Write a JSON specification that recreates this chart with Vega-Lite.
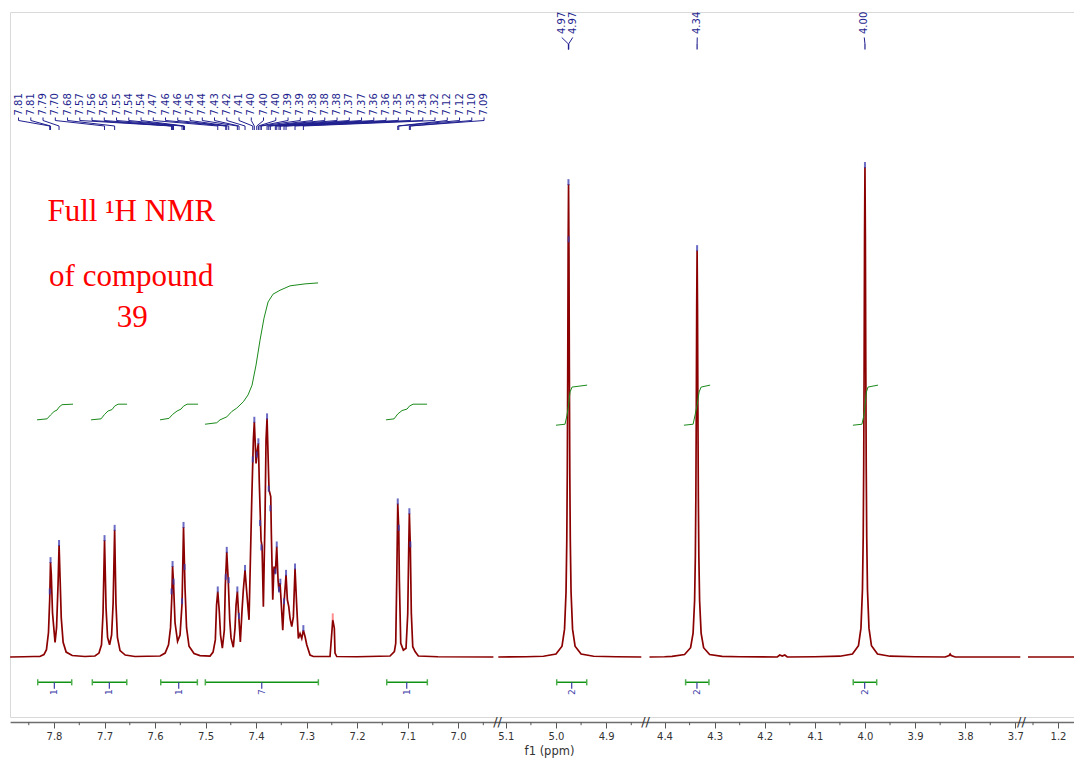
{
"$schema": "https://vega.github.io/schema/vega-lite/v6.json",
"width": 1064, "height": 705,
"autosize": {"type": "none"},
"padding": {"left": 10, "top": 12, "right": 0, "bottom": 42},
"background": "white",
"config": {"view": {"stroke": "#d9d9d9", "strokeWidth": 1}, "font": "DejaVu Sans"},
"datasets": {
"spectrum": [
{"s":"a","x":7.887,"y":0},{"s":"a","x":7.86,"y":0.05},{"s":"a","x":7.84,"y":0.1},{"s":"a","x":7.828,"y":0.1},{"s":"a","x":7.82,"y":0.5},{"s":"a","x":7.815,"y":1.5},{"s":"a","x":7.811,"y":5},{"s":"a","x":7.8085,"y":12},{"s":"a","x":7.807,"y":19.4},{"s":"a","x":7.8055,"y":17},{"s":"a","x":7.803,"y":9},{"s":"a","x":7.798,"y":3},{"s":"a","x":7.795,"y":6},{"s":"a","x":7.792,"y":15},{"s":"a","x":7.79,"y":22.9},{"s":"a","x":7.788,"y":16},{"s":"a","x":7.7857,"y":8},{"s":"a","x":7.782,"y":3},{"s":"a","x":7.776,"y":1},{"s":"a","x":7.764,"y":0.3},{"s":"a","x":7.739,"y":0.1},
{"s":"a","x":7.719,"y":0.2},{"s":"a","x":7.711,"y":0.8},{"s":"a","x":7.706,"y":2.5},{"s":"a","x":7.703,"y":9},{"s":"a","x":7.7,"y":23.9},{"s":"a","x":7.697,"y":10},{"s":"a","x":7.694,"y":4},{"s":"a","x":7.69,"y":2.5},{"s":"a","x":7.686,"y":4.5},{"s":"a","x":7.683,"y":11},{"s":"a","x":7.68,"y":26.0},{"s":"a","x":7.6774,"y":11},{"s":"a","x":7.6745,"y":4},{"s":"a","x":7.6693,"y":1.3},{"s":"a","x":7.659,"y":0.4},{"s":"a","x":7.64,"y":0.1},
{"s":"a","x":7.59,"y":0.2},{"s":"a","x":7.58,"y":0.8},{"s":"a","x":7.5733,"y":2.5},{"s":"a","x":7.5693,"y":6},{"s":"a","x":7.5669,"y":12},{"s":"a","x":7.5653,"y":18.6},{"s":"a","x":7.5634,"y":15},{"s":"a","x":7.5604,"y":7},{"s":"a","x":7.5554,"y":3.2},{"s":"a","x":7.5505,"y":4.5},{"s":"a","x":7.5465,"y":11},{"s":"a","x":7.5436,"y":26.6},{"s":"a","x":7.5406,"y":14},{"s":"a","x":7.5376,"y":6},{"s":"a","x":7.5327,"y":2.2},{"s":"a","x":7.5228,"y":0.7},{"s":"a","x":7.511,"y":0.3},
{"s":"a","x":7.4911,"y":0.2},{"s":"a","x":7.4851,"y":1.0},{"s":"a","x":7.4806,"y":3.5},{"s":"a","x":7.4782,"y":10.6},{"s":"a","x":7.4758,"y":13.4},{"s":"a","x":7.4727,"y":9.2},{"s":"a","x":7.4703,"y":4.5},{"s":"a","x":7.4667,"y":1.8},{"s":"a","x":7.4628,"y":5.5},{"s":"a","x":7.4608,"y":14.7},{"s":"a","x":7.458,"y":21.5},{"s":"a","x":7.4549,"y":15.3},{"s":"a","x":7.4521,"y":7.6},{"s":"a","x":7.4495,"y":3.9},{"s":"a","x":7.445,"y":2.0},{"s":"a","x":7.4416,"y":5.9},{"s":"a","x":7.4396,"y":10.6},{"s":"a","x":7.437,"y":13.4},{"s":"a","x":7.4347,"y":9.2},{"s":"a","x":7.4311,"y":3.1},{"s":"a","x":7.4277,"y":9.6},{"s":"a","x":7.4252,"y":13.7},{"s":"a","x":7.4218,"y":17.8},{"s":"a","x":7.4188,"y":13.7},{"s":"a","x":7.4139,"y":7.6},{"s":"a","x":7.4085,"y":32.1},{"s":"a","x":7.4053,"y":44.4},{"s":"a","x":7.4034,"y":48.1},{"s":"a","x":7.4,"y":39.6},{"s":"a","x":7.3974,"y":42.3},{"s":"a","x":7.3954,"y":43.7},{"s":"a","x":7.3935,"y":35.5},{"s":"a","x":7.3915,"y":28.7},{"s":"a","x":7.3901,"y":23.9},{"s":"a","x":7.3881,"y":22.6},{"s":"a","x":7.3855,"y":10.3},{"s":"a","x":7.3822,"y":28.7},{"s":"a","x":7.3802,"y":44.4},{"s":"a","x":7.3782,"y":48.8},{"s":"a","x":7.3743,"y":34.2},{"s":"a","x":7.3709,"y":32.8},{"s":"a","x":7.3697,"y":25.3},{"s":"a","x":7.3669,"y":11.7},{"s":"a","x":7.3644,"y":18.5},{"s":"a","x":7.3618,"y":17.1},{"s":"a","x":7.359,"y":22.6},{"s":"a","x":7.3564,"y":15.7},{"s":"a","x":7.3545,"y":13.4},{"s":"a","x":7.3525,"y":15.1},{"s":"a","x":7.3505,"y":11.7},{"s":"a","x":7.3471,"y":5.5},{"s":"a","x":7.3446,"y":11.0},{"s":"a","x":7.3406,"y":16.8},{"s":"a","x":7.338,"y":11.7},{"s":"a","x":7.3352,"y":10.3},{"s":"a","x":7.3327,"y":7.9},{"s":"a","x":7.3293,"y":6.2},{"s":"a","x":7.3261,"y":8.2},{"s":"a","x":7.3228,"y":18.1},{"s":"a","x":7.3194,"y":10.3},{"s":"a","x":7.3162,"y":3.8},{"s":"a","x":7.3129,"y":4.8},{"s":"a","x":7.3095,"y":3.8},{"s":"a","x":7.3063,"y":5.5},{"s":"a","x":7.303,"y":4.2},{"s":"a","x":7.2996,"y":2.5},{"s":"a","x":7.2931,"y":0.4},{"s":"a","x":7.2865,"y":0.1},
{"s":"a","x":7.2535,"y":0.1},{"s":"a","x":7.2501,"y":4.8},{"s":"a","x":7.2481,"y":7.6},{"s":"a","x":7.245,"y":5.9},{"s":"a","x":7.2436,"y":0.8},{"s":"a","x":7.2402,"y":0.1},{"s":"a","x":7.2,"y":0.05},
{"s":"a","x":7.1347,"y":0.2},{"s":"a","x":7.1261,"y":1.1},{"s":"a","x":7.1234,"y":2.8},{"s":"a","x":7.1214,"y":15.7},{"s":"a","x":7.1194,"y":31.4},{"s":"a","x":7.1174,"y":26.0},{"s":"a","x":7.1162,"y":15.7},{"s":"a","x":7.1135,"y":2.8},{"s":"a","x":7.1083,"y":1.4},{"s":"a","x":7.103,"y":1.8},{"s":"a","x":7.0996,"y":8.9},{"s":"a","x":7.0976,"y":22.6},{"s":"a","x":7.0964,"y":29.4},{"s":"a","x":7.0945,"y":22.6},{"s":"a","x":7.0925,"y":8.9},{"s":"a","x":7.0897,"y":2.1},{"s":"a","x":7.0851,"y":1.1},{"s":"a","x":7.0786,"y":0.2},{"s":"a","x":7.04,"y":0.05},{"s":"a","x":6.93,"y":0},
{"s":"b","x":5.115,"y":0},{"s":"b","x":5.06,"y":0.05},{"s":"b","x":5.025,"y":0.15},{"s":"b","x":5.0,"y":0.6},{"s":"b","x":4.988,"y":2.2},{"s":"b","x":4.983,"y":5.7},{"s":"b","x":4.98,"y":13.3},{"s":"b","x":4.9785,"y":23.8},{"s":"b","x":4.9775,"y":37.7},{"s":"b","x":4.9766,"y":59.0},{"s":"b","x":4.9758,"y":83.4},{"s":"b","x":4.975,"y":96.7},{"s":"b","x":4.9742,"y":83.4},{"s":"b","x":4.9734,"y":59.0},{"s":"b","x":4.9725,"y":37.7},{"s":"b","x":4.9715,"y":23.8},{"s":"b","x":4.97,"y":13.3},{"s":"b","x":4.967,"y":5.7},{"s":"b","x":4.962,"y":2.2},{"s":"b","x":4.95,"y":0.6},{"s":"b","x":4.925,"y":0.15},{"s":"b","x":4.88,"y":0.05},{"s":"b","x":4.83,"y":0},
{"s":"c","x":4.43,"y":0},{"s":"c","x":4.4,"y":0.05},{"s":"c","x":4.385,"y":0.13},{"s":"c","x":4.36,"y":0.5},{"s":"c","x":4.348,"y":1.9},{"s":"c","x":4.343,"y":4.9},{"s":"c","x":4.34,"y":11.5},{"s":"c","x":4.3385,"y":20.5},{"s":"c","x":4.3375,"y":32.4},{"s":"c","x":4.3366,"y":50.8},{"s":"c","x":4.3358,"y":71.7},{"s":"c","x":4.335,"y":83.2},{"s":"c","x":4.3342,"y":71.7},{"s":"c","x":4.3334,"y":50.8},{"s":"c","x":4.3325,"y":32.4},{"s":"c","x":4.3315,"y":20.5},{"s":"c","x":4.33,"y":11.5},{"s":"c","x":4.327,"y":4.9},{"s":"c","x":4.322,"y":1.9},{"s":"c","x":4.31,"y":0.5},{"s":"c","x":4.285,"y":0.13},{"s":"c","x":4.25,"y":0.05},{"s":"c","x":4.175,"y":0},{"s":"c","x":4.17,"y":0.4},{"s":"c","x":4.165,"y":0.2},{"s":"c","x":4.16,"y":0.4},{"s":"c","x":4.155,"y":0},{"s":"c","x":4.1,"y":0.05},{"s":"c","x":4.05,"y":0.16},{"s":"c","x":4.025,"y":0.6},{"s":"c","x":4.013,"y":2.3},{"s":"c","x":4.008,"y":5.9},{"s":"c","x":4.005,"y":13.8},{"s":"c","x":4.0035,"y":24.6},{"s":"c","x":4.0025,"y":39.1},{"s":"c","x":4.0016,"y":61.1},{"s":"c","x":4.0008,"y":86.4},{"s":"c","x":4.0,"y":100.2},{"s":"c","x":3.9992,"y":86.4},{"s":"c","x":3.9984,"y":61.1},{"s":"c","x":3.9975,"y":39.1},{"s":"c","x":3.9965,"y":24.6},{"s":"c","x":3.995,"y":13.8},{"s":"c","x":3.992,"y":5.9},{"s":"c","x":3.987,"y":2.3},{"s":"c","x":3.975,"y":0.6},{"s":"c","x":3.95,"y":0.16},{"s":"c","x":3.9,"y":0.05},{"s":"c","x":3.84,"y":0},{"s":"c","x":3.832,"y":0.3},{"s":"c","x":3.83,"y":0.6},{"s":"c","x":3.828,"y":0.3},{"s":"c","x":3.82,"y":0},{"s":"c","x":3.69,"y":0},
{"s":"d","x":1.26,"y":0},{"s":"d","x":1.16,"y":0}
],
"integrals": [
{"g":1,"x":7.8337,"y":48.5},{"g":1,"x":7.8139,"y":48.7},{"g":1,"x":7.8069,"y":49.5},{"g":1,"x":7.8,"y":50.2},{"g":1,"x":7.7941,"y":50.5},{"g":1,"x":7.7901,"y":51.1},{"g":1,"x":7.7842,"y":51.6},{"g":1,"x":7.7624,"y":51.7},
{"g":2,"x":7.7267,"y":48.5},{"g":2,"x":7.7069,"y":48.7},{"g":2,"x":7.7,"y":49.6},{"g":2,"x":7.6931,"y":50.3},{"g":2,"x":7.6851,"y":50.6},{"g":2,"x":7.68,"y":51.3},{"g":2,"x":7.6733,"y":51.7},{"g":2,"x":7.6554,"y":51.7},
{"g":3,"x":7.5901,"y":48.5},{"g":3,"x":7.5723,"y":48.8},{"g":3,"x":7.5653,"y":49.6},{"g":3,"x":7.5564,"y":50.3},{"g":3,"x":7.5485,"y":50.7},{"g":3,"x":7.5436,"y":51.3},{"g":3,"x":7.5366,"y":51.7},{"g":3,"x":7.5149,"y":51.7},
{"g":4,"x":7.501,"y":47.6},{"g":4,"x":7.4778,"y":47.9},{"g":4,"x":7.4713,"y":48.5},{"g":4,"x":7.458,"y":49.1},{"g":4,"x":7.4481,"y":50.2},{"g":4,"x":7.4382,"y":50.9},{"g":4,"x":7.4251,"y":52.2},{"g":4,"x":7.4158,"y":53.6},{"g":4,"x":7.4079,"y":55.6},{"g":4,"x":7.4,"y":59.7},{"g":4,"x":7.3921,"y":64.8},{"g":4,"x":7.3842,"y":69.3},{"g":4,"x":7.3762,"y":72.6},{"g":4,"x":7.3663,"y":74.2},{"g":4,"x":7.3525,"y":75.0},{"g":4,"x":7.3327,"y":75.9},{"g":4,"x":7.303,"y":76.3},{"g":4,"x":7.2772,"y":76.5},
{"g":5,"x":7.1426,"y":48.5},{"g":5,"x":7.1267,"y":48.7},{"g":5,"x":7.1194,"y":49.7},{"g":5,"x":7.1109,"y":50.4},{"g":5,"x":7.101,"y":50.7},{"g":5,"x":7.0964,"y":51.3},{"g":5,"x":7.0891,"y":51.7},{"g":5,"x":7.0614,"y":51.7},
{"g":6,"x":5.0,"y":47.4},{"g":6,"x":4.982,"y":47.6},{"g":6,"x":4.978,"y":49.5},{"g":6,"x":4.975,"y":51.5},{"g":6,"x":4.972,"y":54.2},{"g":6,"x":4.968,"y":55.2},{"g":6,"x":4.938,"y":55.6},
{"g":7,"x":4.3613,"y":47.4},{"g":7,"x":4.343,"y":47.6},{"g":7,"x":4.339,"y":49.5},{"g":7,"x":4.335,"y":51.5},{"g":7,"x":4.331,"y":54.2},{"g":7,"x":4.327,"y":55.2},{"g":7,"x":4.309,"y":55.6},
{"g":8,"x":4.024,"y":47.4},{"g":8,"x":4.006,"y":47.6},{"g":8,"x":4.002,"y":49.5},{"g":8,"x":4.0,"y":51.5},{"g":8,"x":3.997,"y":54.2},{"g":8,"x":3.994,"y":55.2},{"g":8,"x":3.974,"y":55.6}
],
"bars": [
{"x":7.8323,"x2":7.765,"m":7.7994,"n":"1"},{"x":7.7242,"x2":7.656,"m":7.6905,"n":"1"},{"x":7.5887,"x2":7.5162,"m":7.5531,"n":"1"},{"x":7.5004,"x2":7.2766,"m":7.3887,"n":"7"},{"x":7.1412,"x2":7.0608,"m":7.1016,"n":"1"},{"x":4.9986,"x2":4.9388,"m":4.9687,"n":"2"},{"x":4.3579,"x2":4.3114,"m":4.3353,"n":"2"},{"x":4.0234,"x2":3.9766,"m":4.0006,"n":"2"}
],
"arom": [
{"x":7.8703,"x2":7.8085,"t":"7.81","h":13},{"x":7.846,"x2":7.8069,"t":"7.81","h":19.4},{"x":7.8218,"x2":7.7901,"t":"7.79","h":22.9},{"x":7.7975,"x2":7.7,"t":"7.70","h":23.9},{"x":7.7733,"x2":7.68,"t":"7.68","h":26.0},{"x":7.749,"x2":7.5673,"t":"7.57","h":13},{"x":7.7248,"x2":7.5653,"t":"7.56","h":18.6},{"x":7.7005,"x2":7.5634,"t":"7.56","h":15},{"x":7.6762,"x2":7.5465,"t":"7.55","h":11},{"x":7.652,"x2":7.5436,"t":"7.54","h":26.6},{"x":7.6277,"x2":7.5416,"t":"7.54","h":18},{"x":7.6035,"x2":7.4758,"t":"7.47","h":13.4},{"x":7.5792,"x2":7.46,"t":"7.46","h":16},{"x":7.555,"x2":7.458,"t":"7.46","h":21.5},{"x":7.5307,"x2":7.4541,"t":"7.45","h":15.3},{"x":7.5064,"x2":7.437,"t":"7.44","h":13.4},{"x":7.4822,"x2":7.4337,"t":"7.43","h":8},{"x":7.4579,"x2":7.4218,"t":"7.42","h":17.8},{"x":7.4337,"x2":7.4065,"t":"7.41","h":40},{"x":7.4094,"x2":7.4034,"t":"7.40","h":48.1},{"x":7.3852,"x2":7.3986,"t":"7.40","h":41},{"x":7.3609,"x2":7.3954,"t":"7.40","h":43.7},{"x":7.3366,"x2":7.3921,"t":"7.39","h":27},{"x":7.3124,"x2":7.3895,"t":"7.39","h":22},{"x":7.2881,"x2":7.3782,"t":"7.38","h":48.8},{"x":7.2639,"x2":7.3748,"t":"7.38","h":34},{"x":7.2396,"x2":7.3717,"t":"7.38","h":30},{"x":7.2154,"x2":7.3618,"t":"7.37","h":17.1},{"x":7.1911,"x2":7.359,"t":"7.37","h":22.6},{"x":7.1668,"x2":7.3545,"t":"7.36","h":13.4},{"x":7.1426,"x2":7.3519,"t":"7.36","h":15},{"x":7.1183,"x2":7.3446,"t":"7.35","h":11},{"x":7.0941,"x2":7.3406,"t":"7.35","h":16.8},{"x":7.0698,"x2":7.3228,"t":"7.34","h":18.1},{"x":7.0456,"x2":7.3063,"t":"7.32","h":5.5},{"x":7.0213,"x2":7.1194,"t":"7.12","h":31.4},{"x":6.997,"x2":7.1174,"t":"7.12","h":26},{"x":6.9728,"x2":7.0964,"t":"7.10","h":29.4},{"x":6.9485,"x2":7.0945,"t":"7.09","h":22.6}
],
"sing": [
{"x":4.9886,"x2":4.9752,"t":"4.97","h":96.7},{"x":4.9667,"x2":4.9748,"t":"4.97","h":85},{"x":4.3347,"x2":4.335,"t":"4.34","h":83.2},{"x":4.0014,"x2":4.0,"t":"4.00","h":100.2}
],
"solvent": [{"x":7.2481,"y":7.6}],
"notes": [{"x":7.647,"y":89.2,"t":"Full ¹H NMR"},{"x":7.647,"y":75.9,"t":"of compound"},{"x":7.645,"y":67.5,"t":"39"}],
"breaks": [{"x":5.41},{"x":4.625},{"x":3.34}],
"minor": [{"x":7.85},{"x":7.75},{"x":7.65},{"x":7.55},{"x":7.45},{"x":7.35},{"x":7.25},{"x":7.15},{"x":7.05},{"x":6.95},{"x":5.05},{"x":4.95},{"x":4.85},{"x":4.35},{"x":4.25},{"x":4.15},{"x":4.05},{"x":3.95},{"x":3.85},{"x":3.75},{"x":1.25}]
},
"layer": [
{"data": {"name": "spectrum"}, "mark": {"type": "line", "color": "#8b0000", "strokeWidth": 1.7},
 "encoding": {
  "x": {"field": "x", "type": "quantitative",
   "scale": {"domain": [7.887, 6.93, 5.115, 4.83, 4.43, 3.69, 1.26, 1.16], "range": [0.1, 483.4, 488.3, 631.3, 639.5, 1010.3, 1018, 1068], "zero": false, "nice": false},
   "axis": {"title": "f1 (ppm)", "orient": "bottom", "offset": 5, "grid": false,
    "values": [7.8,7.7,7.6,7.5,7.4,7.3,7.2,7.1,7.0,5.1,5.0,4.9,4.4,4.3,4.2,4.1,4.0,3.9,3.8,3.7,1.2],
    "format": ".1f", "tickSize": 6,
    "labelOverlap": false, "labelFlush": false, "labelBound": false,
    "labelFont": "DejaVu Sans", "labelFontSize": 10, "labelColor": "#333333", "labelPadding": 3,
    "domainColor": "#6e6e6e", "domainWidth": 1.5, "tickColor": "#555555", "tickWidth": 1,
    "titleFont": "DejaVu Sans", "titleFontSize": 11.5, "titleFontWeight": "normal", "titleColor": "#333333",
    "titleX": 539, "titleY": 29, "titleBaseline": "middle", "titleAnchor": "middle"}},
  "y": {"field": "y", "type": "quantitative", "scale": {"domain": [-12.27, 131.9], "zero": false, "nice": false}, "axis": null},
  "detail": {"field": "s"}}},
{"data": {"name": "minor"}, "mark": {"type": "rule", "color": "#555555", "strokeWidth": 1},
 "encoding": {"x": {"field": "x", "type": "quantitative"}, "y": {"datum": -13.3, "axis": null}, "y2": {"datum": -13.95}}},
{"data": {"name": "integrals"}, "mark": {"type": "line", "color": "#1a8a1a", "strokeWidth": 1},
 "encoding": {"x": {"field": "x", "type": "quantitative"}, "y": {"field": "y", "type": "quantitative", "axis": null}, "detail": {"field": "g"}}},
{"data": {"name": "solvent"}, "mark": {"type": "tick", "orient": "vertical", "color": "#ff6060", "size": 7, "thickness": 2, "yOffset": -3},
 "encoding": {"x": {"field": "x", "type": "quantitative"}, "y": {"field": "y", "type": "quantitative", "axis": null}}},
{"data": {"name": "bars"}, "mark": {"type": "rule", "color": "#129212", "strokeWidth": 1.5},
 "encoding": {"x": {"field": "x", "type": "quantitative"}, "x2": {"field": "x2"}, "y": {"datum": -5.17, "axis": null}}},
{"data": {"name": "bars"}, "mark": {"type": "rule", "color": "#4caf4c", "strokeWidth": 1.5},
 "encoding": {"x": {"field": "x", "type": "quantitative"}, "y": {"datum": -4.55, "axis": null}, "y2": {"datum": -5.8}}},
{"data": {"name": "bars"}, "mark": {"type": "rule", "color": "#4caf4c", "strokeWidth": 1.5},
 "encoding": {"x": {"field": "x2", "type": "quantitative"}, "y": {"datum": -4.55, "axis": null}, "y2": {"datum": -5.8}}},
{"data": {"name": "bars"}, "mark": {"type": "rule", "color": "#3c3ca8", "strokeWidth": 1.2},
 "encoding": {"x": {"field": "m", "type": "quantitative"}, "y": {"datum": -5.17, "axis": null}, "y2": {"datum": -6.5}}},
{"data": {"name": "bars"}, "mark": {"type": "text", "color": "#3c3ca8", "font": "DejaVu Sans", "fontSize": 9, "angle": 270, "align": "right", "baseline": "middle"},
 "encoding": {"x": {"field": "m", "type": "quantitative"}, "y": {"datum": -6.6, "axis": null}, "text": {"field": "n"}}},
{"data": {"name": "arom"}, "mark": {"type": "rule", "color": "#1f1f8f", "strokeWidth": 1},
 "encoding": {"x": {"field": "x", "type": "quantitative"}, "y": {"datum": 110.33, "axis": null}, "y2": {"datum": 109.71}}},
{"data": {"name": "arom"}, "mark": {"type": "rule", "color": "#1f1f8f", "strokeWidth": 1},
 "encoding": {"x": {"field": "x", "type": "quantitative"}, "x2": {"field": "x2"}, "y": {"datum": 109.71, "axis": null}, "y2": {"datum": 108.59}}},
{"data": {"name": "arom"}, "mark": {"type": "rule", "color": "#1f1f8f", "strokeWidth": 1},
 "encoding": {"x": {"field": "x2", "type": "quantitative"}, "y": {"datum": 108.59, "axis": null}, "y2": {"datum": 107.77}}},
{"data": {"name": "arom"}, "mark": {"type": "text", "color": "#1f1f8f", "font": "DejaVu Sans", "fontSize": 10, "angle": 270, "align": "left", "baseline": "middle"},
 "encoding": {"x": {"field": "x", "type": "quantitative"}, "y": {"datum": 110.74, "axis": null}, "text": {"field": "t"}}},
{"data": {"name": "arom"}, "mark": {"type": "tick", "orient": "vertical", "color": "#3a3ab0", "opacity": 0.75, "size": 6, "thickness": 2, "yOffset": -2},
 "encoding": {"x": {"field": "x2", "type": "quantitative"}, "y": {"field": "h", "type": "quantitative", "axis": null}}},
{"data": {"name": "sing"}, "mark": {"type": "rule", "color": "#1f1f8f", "strokeWidth": 1},
 "encoding": {"x": {"field": "x", "type": "quantitative"}, "x2": {"field": "x2"}, "y": {"datum": 126.69, "axis": null}, "y2": {"datum": 125.36}}},
{"data": {"name": "sing"}, "mark": {"type": "rule", "color": "#1f1f8f", "strokeWidth": 1.2},
 "encoding": {"x": {"field": "x2", "type": "quantitative"}, "y": {"datum": 125.36, "axis": null}, "y2": {"datum": 124.23}}},
{"data": {"name": "sing"}, "mark": {"type": "text", "color": "#1f1f8f", "font": "DejaVu Sans", "fontSize": 10, "angle": 270, "align": "left", "baseline": "middle"},
 "encoding": {"x": {"field": "x", "type": "quantitative"}, "y": {"datum": 127.4, "axis": null}, "text": {"field": "t"}}},
{"data": {"name": "sing"}, "mark": {"type": "tick", "orient": "vertical", "color": "#3a3ab0", "opacity": 0.75, "size": 6, "thickness": 2, "yOffset": -2},
 "encoding": {"x": {"field": "x2", "type": "quantitative"}, "y": {"field": "h", "type": "quantitative", "axis": null}}},
{"data": {"name": "notes"}, "mark": {"type": "text", "color": "#ff0000", "font": "Liberation Serif", "fontSize": 31, "align": "center", "baseline": "alphabetic"},
 "encoding": {"x": {"field": "x", "type": "quantitative"}, "y": {"field": "y", "type": "quantitative", "axis": null}, "text": {"field": "t"}}},
{"data": {"name": "breaks"}, "mark": {"type": "text", "color": "#333333", "font": "DejaVu Sans", "fontSize": 13, "align": "center", "baseline": "middle", "text": "//"},
 "encoding": {"x": {"field": "x", "type": "quantitative"}, "y": {"datum": -13.2, "axis": null}}}
]
}
